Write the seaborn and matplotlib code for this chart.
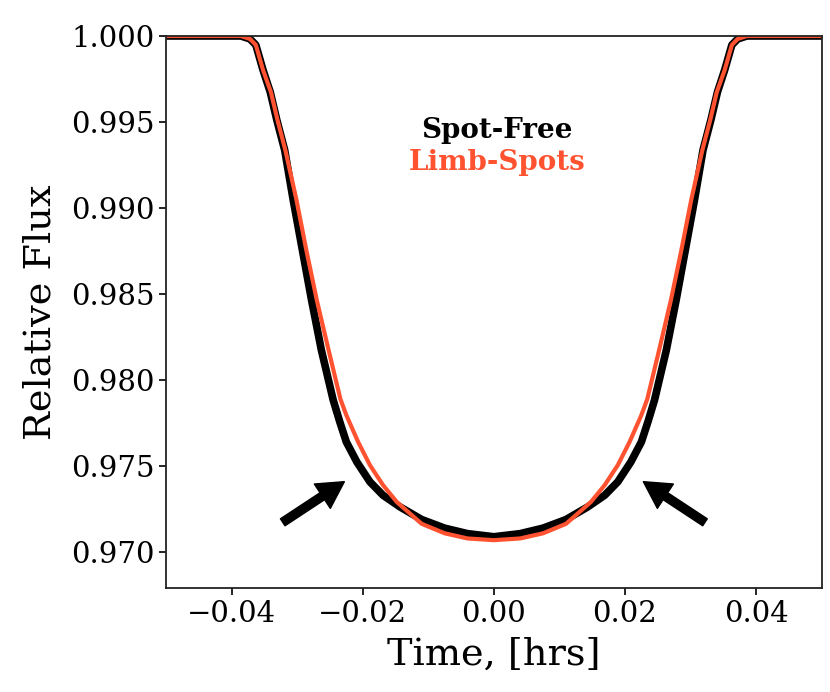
import matplotlib
matplotlib.use("Agg")
import matplotlib.pyplot as plt
import seaborn as sns

sns.set_style("ticks")
plt.rcParams['font.family'] = ['DejaVu Serif']
plt.rcParams['mathtext.fontset'] = 'dejavuserif'
plt.rcParams['text.color'] = 'black'
plt.rcParams['axes.labelcolor'] = 'black'
plt.rcParams['xtick.color'] = 'black'
plt.rcParams['ytick.color'] = 'black'

# Spot-free transit (black)
t_free = [-0.050, -0.0386, -0.0372, -0.0363, -0.0352, -0.0341, -0.0331, -0.0319,
          -0.0306, -0.0292, -0.0278, -0.0263, -0.0245, -0.0235, -0.0225, -0.0209,
          -0.0189, -0.0169, -0.0143, -0.0110, -0.0075, -0.0040, 0.0,
          0.0040, 0.0075, 0.0110, 0.0143, 0.0169, 0.0189, 0.0209, 0.0225,
          0.0235, 0.0245, 0.0263, 0.0278, 0.0292, 0.0306, 0.0319, 0.0331,
          0.0341, 0.0352, 0.0363, 0.0372, 0.0386, 0.050]
f_free = [1.0, 1.0, 0.99983, 0.99948, 0.99802, 0.99674, 0.99512, 0.99337,
          0.99047, 0.98756, 0.98465, 0.98174, 0.97884, 0.97758, 0.97641, 0.97525,
          0.97409, 0.97331, 0.97263, 0.97190, 0.97140, 0.97108, 0.97090,
          0.97108, 0.97140, 0.97190, 0.97263, 0.97331, 0.97409, 0.97525, 0.97641,
          0.97758, 0.97884, 0.98174, 0.98465, 0.98756, 0.99047, 0.99337, 0.99512,
          0.99674, 0.99802, 0.99948, 0.99983, 1.0, 1.0]

# Limb-spotted transit (red)
t_spot = [-0.050, -0.0386, -0.0372, -0.0363, -0.0352, -0.0340, -0.0330, -0.0318,
          -0.0301, -0.0286, -0.0270, -0.0252, -0.0234, -0.0225, -0.0207, -0.0189,
          -0.0169, -0.0148, -0.0110, -0.0075, -0.0040, 0.0,
          0.0040, 0.0075, 0.0110, 0.0148, 0.0169, 0.0189, 0.0207, 0.0225,
          0.0234, 0.0252, 0.0270, 0.0286, 0.0301, 0.0318, 0.0330, 0.0340,
          0.0352, 0.0363, 0.0372, 0.0386, 0.050]
f_spot = [1.0, 1.0, 0.99983, 0.99948, 0.99802, 0.99674, 0.99512, 0.99337,
          0.99047, 0.98756, 0.98465, 0.98174, 0.97890, 0.97797, 0.97641, 0.97506,
          0.97390, 0.97292, 0.97165, 0.97110, 0.97080, 0.97070,
          0.97080, 0.97110, 0.97165, 0.97292, 0.97390, 0.97506, 0.97641, 0.97797,
          0.97890, 0.98174, 0.98465, 0.98756, 0.99047, 0.99337, 0.99512, 0.99674,
          0.99802, 0.99948, 0.99983, 1.0, 1.0]

# arrows pointing at the limb differences: (tail, head)
arrow_tails = [(-0.0322, 0.97174), (0.0322, 0.97174)]
arrow_heads = [(-0.0228, 0.97410), (0.0228, 0.97410)]

SPOT_RED = '#FF5230'

fig, ax = plt.subplots(figsize=(8.3, 6.92), dpi=100)
sns.lineplot(x=t_free, y=f_free, color='black', lw=5.5, ax=ax, sort=False)
sns.lineplot(x=t_spot, y=f_spot, color=SPOT_RED, lw=3, ax=ax, sort=False)

for tail, head in zip(arrow_tails, arrow_heads):
    ax.annotate('', xy=head, xytext=tail,
                arrowprops=dict(facecolor='black', edgecolor='black',
                                width=6, headwidth=21, headlength=19))

ax.text(0.0005, 0.99453, 'Spot-Free', color='black', fontsize=20,
        fontweight='bold', ha='center', va='center')
ax.text(0.0005, 0.99262, 'Limb-Spots', color=SPOT_RED, fontsize=20,
        fontweight='bold', ha='center', va='center')

ax.set_xlim(-0.05, 0.05)
ax.set_ylim(0.96791, 1.0)
ax.set_xticks([-0.04, -0.02, 0.0, 0.02, 0.04])
ax.set_yticks([0.970, 0.975, 0.980, 0.985, 0.990, 0.995, 1.000])
ax.yaxis.set_major_formatter(matplotlib.ticker.FormatStrFormatter('%.3f'))
ax.tick_params(labelsize=21, length=5, width=1.2)
for s in ax.spines.values():
    s.set_linewidth(1.3)
    s.set_color('#222222')
ax.set_xlabel('Time, [hrs]', fontsize=27.5, labelpad=6)
ax.set_ylabel('Relative Flux', fontsize=27.5, labelpad=9)

fig.subplots_adjust(left=0.2, right=0.99, bottom=0.15, top=0.948)
fig.savefig('out.png', dpi=100)
